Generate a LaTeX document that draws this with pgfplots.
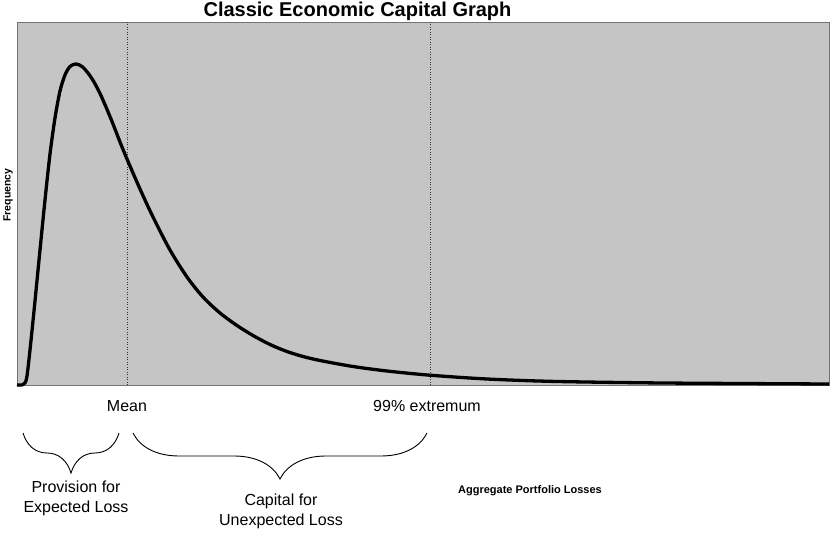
\documentclass[border=0pt]{standalone}
\usepackage{pgfplots}
\pgfplotsset{compat=1.18}
\usepackage{fontspec}
\setmainfont{Liberation Sans}
\usetikzlibrary{decorations.pathreplacing}
\definecolor{bggray}{RGB}{197,197,197}
\begin{document}
\begin{tikzpicture}
\path[use as bounding box] (0,0) rectangle (837bp,537bp);
\begin{axis}[at={(17bp,152bp)}, anchor=south west, scale only axis,
  width=812bp, height=363bp, xmin=0, xmax=812, ymin=0, ymax=363,
  ticks=none, clip=false,
  axis line style={draw=gray!90!black, line width=0.8bp},
  axis background/.style={fill=bggray}]
% dotted reference lines (Mean, 99% extremum)
\addplot[black!80, line width=0.8bp, dash pattern=on 1bp off 1.5bp] coordinates {(110,0) (110,363)};
\addplot[black!80, line width=0.8bp, dash pattern=on 1bp off 1.5bp] coordinates {(413,0) (413,363)};
% loss distribution
\addplot[black, line width=3.3bp, smooth] coordinates {
(0,0) (5,0) (8,2) (10,9) (13,35) (18,84) (23,135) (28,185) (33,231) (38,267)
(43,294) (48,310) (53,318.5) (59,321) (65,318.5) (71,312) (77,303) (83,291.5)
(89,278) (96,261) (103,243) (110,226) (123,196) (136,168) (153,135) (170,108)
(186,88) (203,72) (220,59.5) (236,49.5) (253,40.5) (270,33.5) (286,28.5) (303,24.5)
(336,18.5) (370,14) (413,9.8) (470,6) (536,3.6) (636,2.1) (740,1.4) (812,1)};
% title and labels
\node[font=\fontsize{20bp}{24bp}\selectfont\bfseries, anchor=base] at (axis cs:340.5,368) {Classic Economic Capital Graph};
\node[font=\fontsize{10.5bp}{12bp}\selectfont\bfseries, rotate=90] at (axis cs:-9,190) {Frequency};
\node[font=\fontsize{16bp}{19bp}\selectfont, anchor=base] at (axis cs:110,-26.7) {Mean};
\node[font=\fontsize{16bp}{19bp}\selectfont, anchor=base] at (axis cs:410,-26.7) {99\% extremum};
\node[font=\fontsize{16bp}{19bp}\selectfont, anchor=base] at (axis cs:59,-107) {Provision for};
\node[font=\fontsize{16bp}{19bp}\selectfont, anchor=base] at (axis cs:59,-127) {Expected Loss};
\node[font=\fontsize{16bp}{19bp}\selectfont, anchor=base] at (axis cs:264,-120) {Capital for};
\node[font=\fontsize{16bp}{19bp}\selectfont, anchor=base] at (axis cs:264,-140) {Unexpected Loss};
\node[font=\fontsize{11bp}{13bp}\selectfont\bfseries, anchor=base] at (axis cs:513,-108) {Aggregate Portfolio Losses};
% braces
\draw[decorate, decoration={brace, mirror, amplitude=40bp}, line width=0.9bp] (axis cs:6,-48) -- (axis cs:102,-48);
\draw[decorate, decoration={brace, mirror, amplitude=46bp}, line width=0.9bp] (axis cs:116,-48) -- (axis cs:410,-48);
\end{axis}
\end{tikzpicture}
\end{document}
